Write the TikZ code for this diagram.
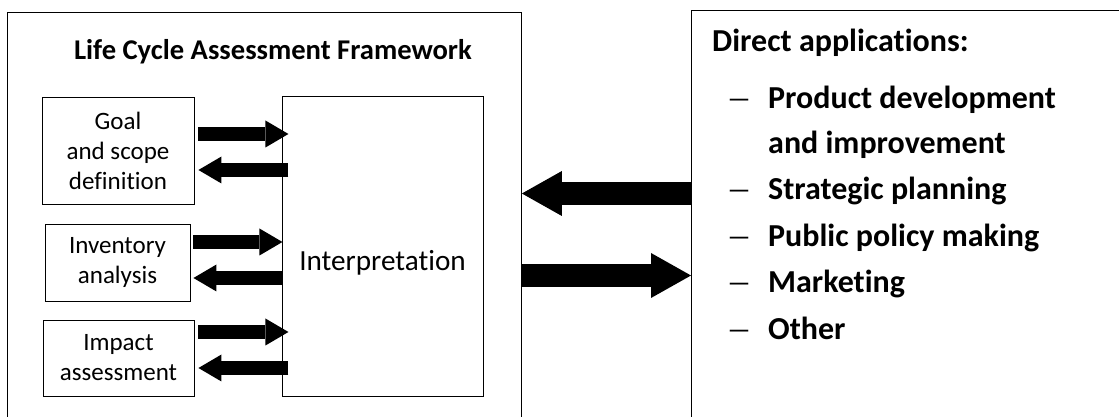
\documentclass[tikz,border=0pt]{standalone}
\usepackage{fontspec}
\setmainfont{Carlito}[Ligatures=NoCommon]
\newfontfamily\dashfont{Liberation Serif}
\usetikzlibrary{arrows.meta, positioning}

\tikzset{
  box/.style={draw, line width=0.9pt, inner sep=0pt, align=center},
  stage/.style={box, font=\fontsize{25}{30}\selectfont},
  smallarrow/.style={line width=14pt, -{Triangle[length=23pt, width=27pt, line width=0pt]}},
  bigarrow/.style={line width=23pt, -{Triangle[length=40pt, width=45pt, line width=0pt]}},
  listitem/.style={anchor=base west, inner sep=0pt, font=\fontsize{32}{36}\selectfont\bfseries},
  itemdash/.style={anchor=base west, inner sep=0pt, font=\dashfont\fontsize{36}{36}\selectfont},
}

\begin{document}
\begin{tikzpicture}[x=1pt, y=1pt]
    \useasboundingbox (0,0) rectangle (1119,417);
    \clip (0,0) rectangle (1119,417);

    % Outer frames (cut off at the bottom and right)
    \node[box, anchor=north west, minimum width=514pt, minimum height=430pt] (framework) at (7,405.3) {};
    \node[box, anchor=north west, minimum width=440pt, minimum height=430pt] (apps) at (691,407) {};

    % LCA framework
    \node[anchor=base, font=\fontsize{28.6}{32}\selectfont\bfseries] (title) at (273,357.7) {Life Cycle Assessment Framework};

    \node[stage, minimum width=152pt, minimum height=107pt] (goal) at (118,266.5) {Goal\\and scope\\definition};
    \node[stage, minimum width=145pt, minimum height=77pt] (inventory) at (117.5,154.5) {Inventory\\analysis};
    \node[stage, minimum width=151pt, minimum height=76pt] (impact) at (118.5,59) {Impact\\assessment};

    \node[box, minimum width=201pt, minimum height=300pt] (interp) at (382.5,171) {};
    \node[font=\fontsize{29.2}{34}\selectfont] (interptext) at ([yshift=-17pt]interp.center) {Interpretation};

    % Arrows between the stages and interpretation
    \draw[smallarrow] ([shift={(4pt,16.5pt)}]goal.east) -- ++(90pt,0);
    \draw[smallarrow] ([shift={(94pt,-19.5pt)}]goal.east) -- ++(-90pt,0);
    \draw[smallarrow] ([shift={(3pt,20.5pt)}]inventory.east) -- ++(89pt,0);
    \draw[smallarrow] ([shift={(92pt,-15.5pt)}]inventory.east) -- ++(-89pt,0);
    \draw[smallarrow] ([shift={(4pt,26pt)}]impact.east) -- ++(90pt,0);
    \draw[smallarrow] ([shift={(94pt,-10pt)}]impact.east) -- ++(-90pt,0);

    % Arrows between the two frames
    \draw[bigarrow] (apps.west |- 0,223.5) -- (framework.east |- 0,223.5);
    \draw[bigarrow] (framework.east |- 0,141.5) -- (apps.west |- 0,141.5);

    % Direct applications
    \node[anchor=base west, inner sep=0pt, font=\fontsize{32}{36}\selectfont\bfseries] (heading) at (712,365) {Direct applications:};

    \node[itemdash] (d1) at (730,308) {\textendash};
    \node[listitem] (i1) at (768,308) {Product development};
    \node[listitem] (i1b) at (768,263) {and improvement};
    \node[itemdash] (d2) at (730,217) {\textendash};
    \node[listitem] (i2) at (768,217) {Strategic planning};
    \node[itemdash] (d3) at (730,170) {\textendash};
    \node[listitem] (i3) at (768,170) {Public policy making};
    \node[itemdash] (d4) at (730,124) {\textendash};
    \node[listitem] (i4) at (768,124) {Marketing};
    \node[itemdash] (d5) at (730,77) {\textendash};
    \node[listitem] (i5) at (768,77) {Other};
\end{tikzpicture}
\end{document}
